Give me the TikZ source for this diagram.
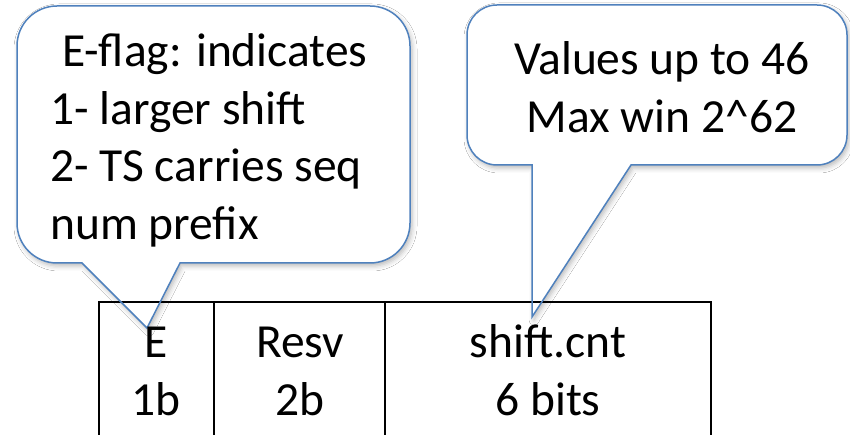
\documentclass[tikz,border=0pt]{standalone}
\usepackage{fontspec}
\setmainfont{Carlito}
\usetikzlibrary{shadows.blur}
\definecolor{callblue}{HTML}{4F81BD}
\tikzset{
  calloutshape/.style={fill=white, draw=none, blur shadow={shadow xshift=2pt, shadow yshift=-3pt, shadow blur radius=5pt, shadow opacity=28}},
  calloutline/.style={draw=callblue, line width=1.5pt, line join=miter},
  fieldline/.style={draw=black, line width=2pt},
  lbl/.style={inner sep=0pt, font=\fontsize{47.5}{57.7}\selectfont, text=black},
}
\begin{document}
\begin{tikzpicture}[x=1pt,y=1pt]
\useasboundingbox (0,0) rectangle (850,435);
\fill[white] (0,0) rectangle (850,435);
% callout pointer coordinates
\coordinate (lbaseL) at (82,172);
\coordinate (lbaseR) at (180,172);
\coordinate (ltip) at (147,107);
\coordinate (rbaseL) at (532,270);
\coordinate (rbaseR) at (631,270);
\coordinate (rtip) at (532,118);
% shadows + fills
\path[calloutshape] (lbaseL) -- (57,172) arc[start angle=270,end angle=180,radius=40] -- (17,389) arc[start angle=180,end angle=90,radius=40] -- (370,429) arc[start angle=90,end angle=0,radius=40] -- (410,212) arc[start angle=0,end angle=-90,radius=40] -- (lbaseR) -- (ltip) -- cycle;
\path[calloutshape] (rbaseL) -- (497,270) arc[start angle=270,end angle=180,radius=30] -- (467,400) arc[start angle=180,end angle=90,radius=30] -- (817,430) arc[start angle=90,end angle=0,radius=30] -- (847,300) arc[start angle=0,end angle=-90,radius=30] -- (rbaseR) -- (rtip) -- cycle;
% field box
\coordinate (bTL) at (99,133);
\coordinate (bD1) at (214,133);
\coordinate (bD2) at (385,133);
\coordinate (bTR) at (711,133);
\draw[fieldline] (99,0) -- (bTL) -- (bTR) -- (711,0);
\draw[fieldline] (bD1) -- (214,0);
\draw[fieldline] (bD2) -- (385,0);
% callout outlines
\draw[calloutline] (lbaseL) -- (57,172) arc[start angle=270,end angle=180,radius=40] -- (17,389) arc[start angle=180,end angle=90,radius=40] -- (370,429) arc[start angle=90,end angle=0,radius=40] -- (410,212) arc[start angle=0,end angle=-90,radius=40] -- (lbaseR) -- (ltip) -- cycle;
\draw[calloutline] (rbaseL) -- (497,270) arc[start angle=270,end angle=180,radius=30] -- (467,400) arc[start angle=180,end angle=90,radius=30] -- (817,430) arc[start angle=90,end angle=0,radius=30] -- (847,300) arc[start angle=0,end angle=-90,radius=30] -- (rbaseR) -- (rtip) -- cycle;
% left callout text
\node[lbl, anchor=base west] (l1) at (50,368) {\hspace{12pt}E-flag: indicates};
\node[lbl, anchor=base west] (l2) at (50,310) {1- larger shift};
\node[lbl, anchor=base west] (l3) at (50,253) {2- TS carries seq};
\node[lbl, anchor=base west] (l4) at (50,195) {num prefix};
% right callout text
\node[lbl, anchor=base] (r1) at (662,360) {Values up to 46};
\node[lbl, anchor=base] (r2) at (662,302) {Max win 2\^{}62};
% field labels
\node[lbl, anchor=base] (e1) at (156,77) {E};
\node[lbl, anchor=base] (e2) at (156,19) {1b};
\node[lbl, anchor=base] (s1) at (300,77) {Resv};
\node[lbl, anchor=base] (s2) at (300,19) {2b};
\node[lbl, anchor=base] (c1) at (548,77) {shift.cnt};
\node[lbl, anchor=base] (c2) at (548,19) {6 bits};
\end{tikzpicture}
\end{document}
